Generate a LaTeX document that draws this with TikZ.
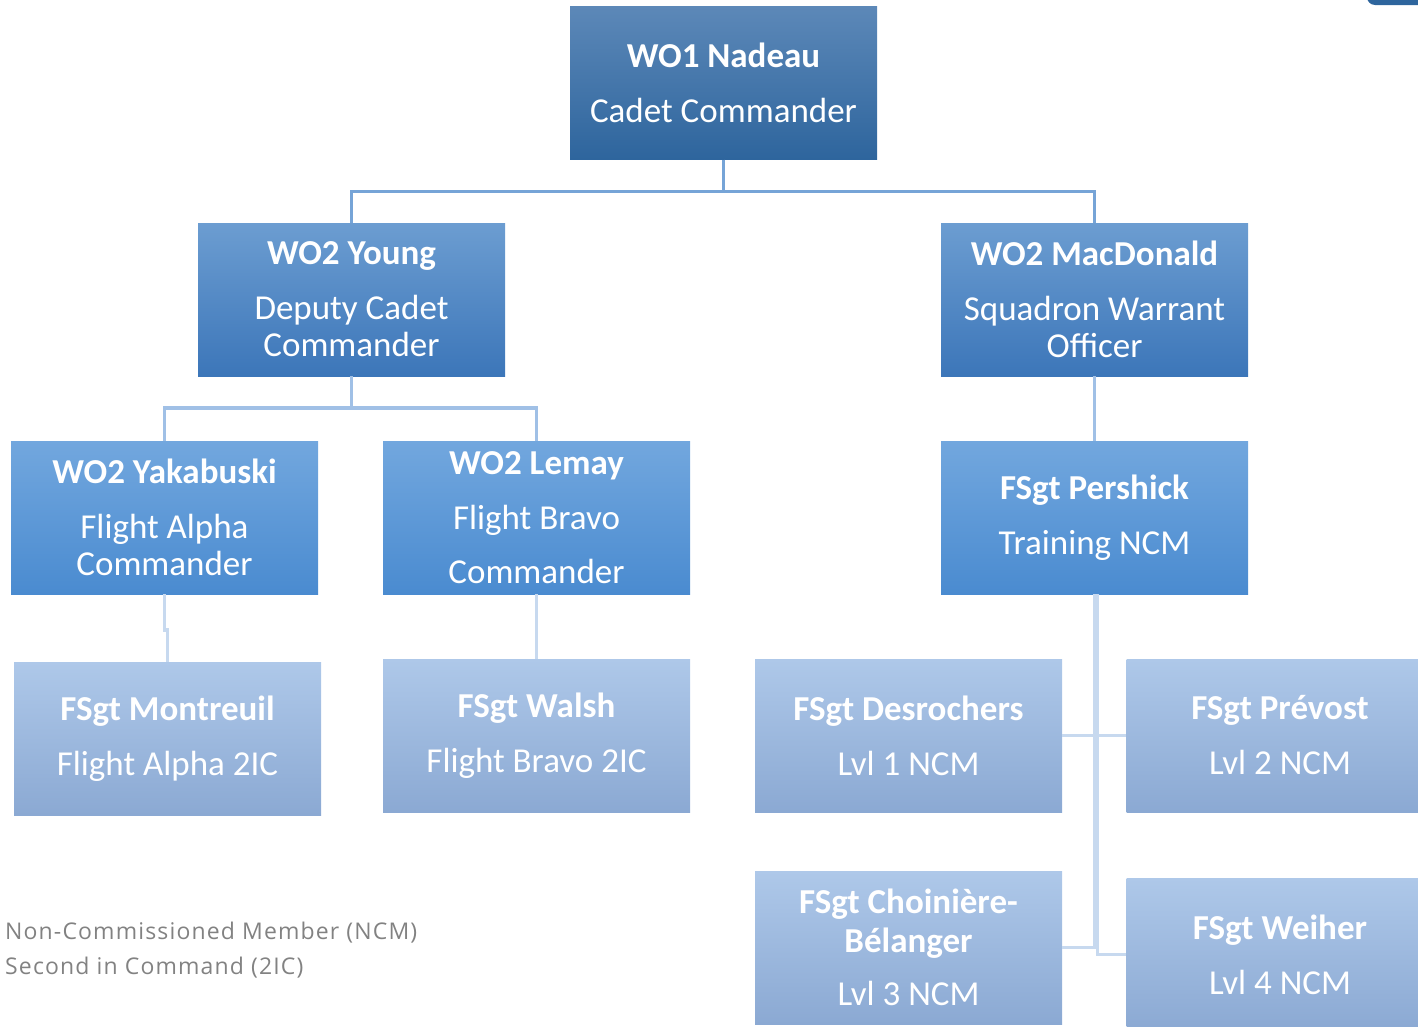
\documentclass[tikz,border=0pt]{standalone}
\usepackage{fontspec}
\setmainfont{Carlito}
\newfontfamily\legendfont[LetterSpace=5]{Open Sans}
\usepackage{tikz}
\usepackage{xcolor}
\definecolor{navytop}{RGB}{92,136,184}
\definecolor{navybot}{RGB}{46,101,157}
\definecolor{midtop}{RGB}{108,157,209}
\definecolor{midbot}{RGB}{60,118,185}
\definecolor{lighttop}{RGB}{114,167,222}
\definecolor{lightbot}{RGB}{74,139,208}
\definecolor{paletop}{RGB}{174,200,233}
\definecolor{palebot}{RGB}{139,169,211}
\definecolor{linkdark}{RGB}{118,164,215}
\definecolor{linkmid}{RGB}{160,192,230}
\definecolor{linkpale}{RGB}{199,217,239}
\definecolor{legendgray}{RGB}{130,130,130}

\begin{document}
\begin{tikzpicture}[x=1pt, y=-1pt,
    box/.style={rectangle,inner sep=0pt,minimum width=307pt,minimum height=153pt,text=white,align=center,font=\fontsize{35}{37}\selectfont},
    rankA/.style={box,top color=navytop,bottom color=navybot},
    rankB/.style={box,top color=midtop,bottom color=midbot},
    rankC/.style={box,top color=lighttop,bottom color=lightbot},
    rankD/.style={box,top color=paletop,bottom color=palebot},
    linkA/.style={draw=linkdark,line width=3pt},
    linkB/.style={draw=linkmid,line width=3.5pt},
    linkC/.style={draw=linkpale,line width=3.5pt},
    legend/.style={anchor=base west,inner sep=0pt,text=legendgray,font=\legendfont\fontsize{23}{35}\selectfont}]
        \useasboundingbox (0,0) rectangle (1418,1026);
        \fill[navybot,rounded corners=8pt] (1367,-30) rectangle (1440,5);
        \node at (723.5,83) [rankA] (nadeau) {\textbf{WO1 Nadeau}\\[18pt]Cadet Commander};
        \node at (351.5,299.5) [rankB] (young) {\textbf{WO2 Young}\\[18pt]Deputy Cadet\\Commander};
        \node at (1094.5,299.5) [rankB] (macdonald) {\textbf{WO2 MacDonald}\\[18pt]Squadron Warrant\\Officer};
        \node at (164.5,517.5) [rankC] (yakabuski) {\textbf{WO2 Yakabuski}\\[18pt]Flight Alpha\\Commander};
        \node at (536.5,517.5) [rankC] (lemay) {\textbf{WO2 Lemay}\\[18pt]Flight Bravo\\[17pt]Commander};
        \node at (1094.5,517.5) [rankC] (pershick) {\textbf{FSgt Pershick}\\[18pt]Training NCM};
        \node at (167.5,738.5) [rankD] (montreuil) {\textbf{FSgt Montreuil}\\[18pt]Flight Alpha 2IC};
        \node at (536.5,735.5) [rankD] (walsh) {\textbf{FSgt Walsh}\\[18pt]Flight Bravo 2IC};
        \node at (908.5,735.5) [rankD] (desrochers) {\textbf{FSgt Desrochers}\\[18pt]Lvl 1 NCM};
        \node at (1280,735.5) [rankD] (prevost) {\textbf{FSgt Prévost}\\[18pt]Lvl 2 NCM};
        \node at (908.5,947.5) [rankD] (choiniere) {\textbf{FSgt Choinière-}\\[2pt]\textbf{Bélanger}\\[16pt]Lvl 3 NCM};
        \node at (1280,954.5) [rankD] (weiher) {\textbf{FSgt Weiher}\\[18pt]Lvl 4 NCM};
        \draw[linkA] (nadeau.south) -- ++(0,32) -| (young.north);
        \draw[linkA] (nadeau.south) -- ++(0,32) -| (macdonald.north);
        \draw[linkB] (young.south) -- ++(0,32) -| (yakabuski.north);
        \draw[linkB] (young.south) -- ++(0,32) -| (lemay.north);
        \draw[linkB] (macdonald.south) -- (pershick.north);
        \draw[linkC] (yakabuski.south) -- ++(0,36) -| (montreuil.north);
        \draw[linkC] (lemay.south) -- (walsh.north);
        \draw[linkC] (desrochers.east) -- (prevost.west);
        \draw[linkC] (pershick.south) |- (choiniere.east);
        \draw[linkC] ([xshift=3pt]pershick.south) |- (weiher.west);
        \node at (5,939) [legend] (ncm) {Non-Commissioned Member (NCM)};
        \node at (5,974) [legend] (twoic) {Second in Command (2IC)};
    \end{tikzpicture}
\end{document}
